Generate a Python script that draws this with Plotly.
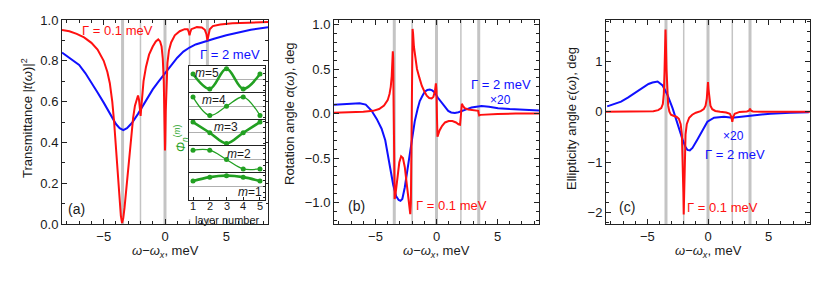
import plotly.graph_objects as go

W, H = 822, 297

# ---------------- data ----------------
mode_x = [-3.46, -2.0, 0.0, 2.0, 3.46]
mode_bright = [True, False, True, False, True]

# panel (a) transmittance
a_red_x = [-8.4, -7.8, -7.2, -6.6, -6.0, -5.5, -5.0, -4.7, -4.5, -4.3, -4.15, -4.0, -3.85, -3.72, -3.6,
           -3.5, -3.4, -3.3, -3.15, -3.0, -2.8, -2.6, -2.45, -2.3, -2.2, -2.12, -2.06, -2.02, -1.99,
           -1.95, -1.88, -1.75, -1.55, -1.3, -1.0, -0.75, -0.55, -0.4, -0.28, -0.18, -0.1, -0.05,
           -0.015, 0.0, 0.02, 0.06, 0.12, 0.2, 0.32, 0.5, 0.8, 1.2, 1.6, 1.85, 1.94, 2.0, 2.06, 2.15,
           2.6, 3.0, 3.25, 3.38, 3.46, 3.54, 3.65, 3.9, 4.5, 5.5, 6.5, 7.5, 8.4]
a_red_y = [0.951, 0.945, 0.932, 0.915, 0.888, 0.855, 0.80, 0.745, 0.69, 0.60, 0.50, 0.38, 0.24, 0.12, 0.04,
           0.005, 0.03, 0.08, 0.18, 0.29, 0.42, 0.52, 0.58, 0.62, 0.63, 0.61, 0.57, 0.535, 0.53,
           0.56, 0.62, 0.70, 0.77, 0.83, 0.87, 0.895, 0.905, 0.895, 0.87, 0.81, 0.70, 0.55,
           0.40, 0.36, 0.40, 0.55, 0.70, 0.79, 0.85, 0.89, 0.925, 0.945, 0.955, 0.955, 0.94, 0.925, 0.94, 0.955,
           0.965, 0.963, 0.952, 0.93, 0.90, 0.93, 0.955, 0.97, 0.978, 0.984, 0.987, 0.989, 0.99]
a_blue_x = [-8.4, -7.5, -7.0, -6.5, -6.0, -5.5, -5.0, -4.5, -4.0, -3.7, -3.4, -3.1, -2.7, -2.2, -1.8,
            -1.0, -0.5, 0.0, 0.5, 1.0, 1.5, 2.0, 2.5, 3.0, 3.5, 4.0, 5.0, 6.0, 7.0, 8.4]
a_blue_y = [0.84, 0.80, 0.78, 0.74, 0.695, 0.645, 0.595, 0.54, 0.49, 0.47, 0.46, 0.47, 0.495, 0.54, 0.58,
            0.66, 0.70, 0.74, 0.78, 0.815, 0.845, 0.865, 0.88, 0.89, 0.90, 0.908, 0.925, 0.94, 0.952, 0.965]

# panel (b) rotation angle
b_red_x = [-8.4, -7.0, -6.0, -5.2, -4.7, -4.3, -4.0, -3.85, -3.75, -3.67, -3.62, -3.58, -3.55, -3.52,
           -3.49, -3.46, -3.43, -3.38, -3.3, -3.2, -3.05, -2.9, -2.75, -2.6, -2.45, -2.3, -2.2, -2.15,
           -2.1, -2.05, -2.0, -1.96, -1.92, -1.85, -1.75, -1.6, -1.4, -1.2, -1.0, -0.8, -0.6, -0.4,
           -0.25, -0.12, -0.05, 0.0, 0.04, 0.08, 0.13, 0.25, 0.45, 0.7, 1.0, 1.3, 1.6, 1.8, 1.93, 1.98,
           2.03, 2.08, 2.15, 2.3, 2.6, 3.0, 3.3, 3.42, 3.46, 3.5, 3.6, 4.0, 5.0, 6.5, 8.4]
b_red_y = [0.01, 0.012, 0.02, 0.03, 0.05, 0.09, 0.15, 0.22, 0.30, 0.42, 0.55, 0.70, 0.62, 0.2,
           -0.4, -0.85, -0.96, -0.93, -0.82, -0.68, -0.55, -0.48, -0.50, -0.60, -0.78, -0.98, -1.10, -1.13,
           -1.0, -0.3, 0.5, 0.95, 0.90, 0.75, 0.62, 0.50, 0.40, 0.31, 0.25, 0.20, 0.175, 0.17,
           0.19, 0.26, 0.34, 0.25, -0.05, -0.26, -0.24, -0.19, -0.14, -0.10, -0.085, -0.085, -0.10, -0.12, -0.125, -0.05,
           0.08, 0.11, 0.09, 0.06, 0.045, 0.04, 0.035, 0.03, 0.0, -0.02, -0.015, -0.01, -0.005, 0.0, 0.0]
b_blue_x = [-8.4, -7.2, -6.3, -5.8, -5.33, -4.9, -4.5, -4.2, -3.96, -3.75, -3.55, -3.3, -3.1, -2.95,
            -2.8, -2.6, -2.4, -2.19, -2.0, -1.78, -1.55, -1.37, -1.15, -0.96, -0.75, -0.55, -0.35, -0.14,
            0.1, 0.41, 0.7, 0.96, 1.2, 1.5, 1.8, 2.05, 2.5, 2.87, 3.3, 3.69, 4.3, 5.05, 6.0, 6.69, 7.4, 8.4]
b_blue_y = [0.10, 0.11, 0.115, 0.10, 0.034, -0.06, -0.17, -0.30, -0.47, -0.62, -0.80, -0.93, -0.97, -0.98,
            -0.96, -0.83, -0.66, -0.47, -0.27, -0.085, 0.05, 0.14, 0.20, 0.245, 0.265, 0.27, 0.26, 0.235,
            0.18, 0.124, 0.07, 0.03, 0.012, 0.007, 0.015, 0.03, 0.05, 0.067, 0.08, 0.085, 0.075, 0.06, 0.05, 0.045, 0.04, 0.035]

# panel (c) ellipticity angle
c_red_x = [-8.4, -6.0, -5.0, -4.5, -4.1, -3.85, -3.72, -3.64, -3.58, -3.53, -3.5, -3.47, -3.42, -3.36,
           -3.28, -3.18, -3.05, -2.85, -2.6, -2.4, -2.25, -2.15, -2.08, -2.03, -2.0, -1.97, -1.92, -1.85,
           -1.75, -1.55, -1.3, -1.0, -0.6, -0.35, -0.2, -0.1, -0.04, 0.0, 0.04, 0.1, 0.2, 0.35, 0.6, 1.0,
           1.5, 1.8, 1.92, 2.0, 2.08, 2.2, 2.6, 3.2, 3.38, 3.46, 3.54, 3.7, 4.5, 8.4]
c_red_y = [0.0, 0.002, 0.005, 0.01, 0.03, 0.07, 0.15, 0.35, 0.8, 1.4, 1.63, 1.4, 0.85, 0.38,
           0.12, 0.0, -0.06, -0.08, -0.10, -0.14, -0.25, -0.45, -0.9, -1.6, -2.04, -1.6, -0.9, -0.45,
           -0.25, -0.12, -0.06, -0.02, 0.01, 0.05, 0.12, 0.26, 0.45, 0.59, 0.45, 0.26, 0.12, 0.05, 0.015, 0.0,
           -0.015, -0.04, -0.1, -0.2, -0.1, -0.04, -0.005, 0.005, 0.02, 0.06, 0.02, 0.005, 0.0, 0.0]
c_blue_x = [-8.3, -7.7, -7.16, -6.6, -6.07, -5.6, -5.25, -4.9, -4.57, -4.15, -3.74, -3.33, -2.92, -2.51,
            -2.1, -1.85, -1.69, -1.5, -1.28, -0.87, -0.46, -0.05, 0.5, 1.32, 2.0, 2.4, 3.5, 5.14, 6.78, 8.3]
c_blue_y = [0.105, 0.15, 0.20, 0.28, 0.36, 0.44, 0.50, 0.55, 0.58, 0.60, 0.52, 0.33, 0.07, -0.26,
            -0.55, -0.70, -0.76, -0.77, -0.72, -0.55, -0.36, -0.20, -0.12, -0.10, -0.12, -0.11, -0.07, -0.04, -0.02, -0.01]

# inset: mode amplitudes on layers
layers = [1, 2, 3, 4, 5]
inset_modes = [5, 4, 3, 2, 1]
phi = {
    5: [0.29, -0.50, 0.58, -0.50, 0.29],
    4: [0.50, -0.50, 0.0, 0.50, -0.50],
    3: [0.58, 0.0, -0.58, 0.0, 0.58],
    2: [0.50, 0.50, 0.0, -0.50, -0.50],
    1: [0.29, 0.50, 0.58, 0.50, 0.29],
}

x_ticks = [-5, 0, 5]
x_ticktext = ["\u22125", "0", "5"]
a_yticks = [0.0, 0.2, 0.4, 0.6, 0.8, 1.0]
a_yticktext = ["0.0", "0.2", "0.4", "0.6", "0.8", "1.0"]
b_yticks = [-1.0, -0.5, 0.0, 0.5, 1.0]
b_yticktext = ["\u22121.0", "\u22120.5", "0.0", "0.5", "1.0"]
c_yticks = [-2, -1, 0, 1]
c_yticktext = ["\u22122", "\u22121", "0", "1"]

# ---------------- styling ----------------
RED = "#ff1010"
BLUE = "#1010ff"
GREEN = "#22a022"
GRAY = "#c4c4c4"
FONT = "Liberation Sans, Arial, sans-serif"
TXT = "#1a1a1a"


def fx(p):
    return p / W


def fy(p):
    return 1 - p / H


fig = go.Figure()

panels = [
    dict(xa="x", ya="y", rx=a_red_x, ry=a_red_y, bx=a_blue_x, by=a_blue_y),
    dict(xa="x2", ya="y2", rx=b_red_x, ry=b_red_y, bx=b_blue_x, by=b_blue_y),
    dict(xa="x3", ya="y3", rx=c_red_x, ry=c_red_y, bx=c_blue_x, by=c_blue_y),
]
for p in panels:
    fig.add_trace(go.Scatter(x=p["bx"], y=p["by"], mode="lines", xaxis=p["xa"], yaxis=p["ya"],
                             line=dict(color=BLUE, width=2), showlegend=False, hoverinfo="skip"))
    fig.add_trace(go.Scatter(x=p["rx"], y=p["ry"], mode="lines", xaxis=p["xa"], yaxis=p["ya"],
                             line=dict(color=RED, width=2), showlegend=False, hoverinfo="skip"))

# mask subplot (white) under the inset's tick labels
fig.add_trace(go.Scatter(x=[], y=[], xaxis="x4", yaxis="y4", showlegend=False))

# inset subplots
for i, m in enumerate(inset_modes):
    n = 5 + i
    fig.add_trace(go.Scatter(x=layers, y=phi[m], mode="lines+markers",
                             xaxis=f"x{n}", yaxis=f"y{n}",
                             line=dict(color=GREEN, width=2.6 if m % 2 == 1 else 1.3, shape="spline", smoothing=1.0),
                             marker=dict(color=GREEN, size=5),
                             showlegend=False, hoverinfo="skip"))

# gray mode lines
shapes = []
for ref in ["", "2", "3"]:
    for xm, br in zip(mode_x, mode_bright):
        shapes.append(dict(type="line", xref="x" + ref, yref="y" + ref + " domain",
                           x0=xm, x1=xm, y0=0, y1=1, layer="below",
                           line=dict(color=GRAY, width=3 if br else 1.5)))

layout = dict(template="none", width=W, height=H,
              margin=dict(l=0, r=0, t=0, b=0, pad=0, autoexpand=False),
              paper_bgcolor="white", plot_bgcolor="white",
              font=dict(family=FONT, size=13, color=TXT), showlegend=False)

frame = dict(showline=True, linecolor="#222", linewidth=1, mirror="allticks", automargin=False,
             ticks="inside", ticklen=5, tickcolor="#222", showgrid=False, zeroline=False,
             tickfont=dict(size=13, family=FONT, color=TXT))

doms_x = [(62, 268), (334, 539), (606, 810)]
ranges_y = [[0, 1], [-1.24, 1.05], [-2.23, 1.82]]
yt = [(a_yticks, a_yticktext, 0.1), (b_yticks, b_yticktext, 0.1), (c_yticks, c_yticktext, 0.2)]
for k, (d, ry, (tv, tt, mdt)) in enumerate(zip(doms_x, ranges_y, yt)):
    sx = "" if k == 0 else str(k + 1)
    layout["xaxis" + sx] = dict(frame, domain=[fx(d[0]), fx(d[1])], range=[-8.4, 8.4], anchor="y" + sx,
                                tickmode="array", tickvals=x_ticks, ticktext=x_ticktext,
                                minor=dict(tickmode="linear", tick0=0, dtick=1, ticks="inside", ticklen=3,
                                           tickcolor="#222", showgrid=False))
    layout["yaxis" + sx] = dict(frame, domain=[fy(224), fy(20)], range=ry, anchor="x" + sx,
                                tickmode="array", tickvals=tv, ticktext=tt,
                                minor=dict(tickmode="linear", tick0=0, dtick=mdt, ticks="inside", ticklen=3,
                                           tickcolor="#222", showgrid=False))

# mask axes
layout["xaxis4"] = dict(domain=[fx(186), fx(266)], range=[0, 1], visible=False, anchor="y4")
layout["yaxis4"] = dict(domain=[fy(219), fy(200)], range=[0, 1], visible=False, anchor="x4")

box_edges = [66, 93, 119.5, 146, 173, 200]
for i, m in enumerate(inset_modes):
    n = 5 + i
    last = (m == 1)
    layout[f"xaxis{n}"] = dict(domain=[fx(189), fx(265)], range=[0.76, 5.3], anchor=f"y{n}",
                               showline=True, linecolor="#222", linewidth=1, mirror=True, automargin=False,
                               showgrid=False, zeroline=False,
                               tickmode="array", tickvals=layers,
                               ticks="inside" if last else "", ticklen=3, tickcolor="#222",
                               showticklabels=False)
    layout[f"yaxis{n}"] = dict(domain=[fy(box_edges[i + 1]), fy(box_edges[i])], range=[-0.72, 0.72],
                               anchor=f"x{n}", side="right", showline=True, linecolor="#222", linewidth=1,
                               mirror=True, automargin=False,
                               showgrid=False, zeroline=True, zerolinecolor="#b0b0b0", zerolinewidth=1,
                               showticklabels=False, ticks="inside", ticklen=2, tickcolor="#222",
                               tickmode="linear", tick0=0, dtick=0.3)

layout["shapes"] = shapes

ann = []


def text(x, y, s, color=TXT, size=13, angle=0):
    ann.append(dict(x=fx(x), y=fy(y), xref="paper", yref="paper", text=s, showarrow=False,
                    xanchor="center", yanchor="middle", textangle=angle,
                    font=dict(family=FONT, size=size, color=color)))


xt = "<i>ω</i>\u2212<i>ω</i><sub><i>x</i></sub>, meV"
text(165, 251, xt)
text(436, 251, xt)
text(708, 251, xt)
text(27, 118, "Transmittance |<i>t</i>(<i>ω</i>)|<sup>2</sup>", angle=-90)
text(289, 114, "Rotation angle <i>α</i>(<i>ω</i>), deg", angle=-90)
text(571, 119, "Ellipticity angle <i>ϵ</i>(<i>ω</i>), deg", angle=-90)

text(118, 31, "Γ = 0.1 meV", color=RED)
text(230, 54, "Γ = 2 meV", color=BLUE)
text(76, 209, "(a)", size=14)

text(501, 84, "Γ = 2 meV", color=BLUE)
text(500, 100, "×20", color=BLUE, size=12)
text(451, 205, "Γ = 0.1 meV", color=RED)
text(356, 206, "(b)", size=14)

text(733, 136, "×20", color=BLUE, size=12)
text(735, 154, "Γ = 2 meV", color=BLUE)
text(722, 207, "Γ = 0.1 meV", color=RED)
text(627, 207, "(c)", size=14)

# inset labels
text(181, 138, "<i>Φ</i><sub><i>n</i></sub><sup>(<i>m</i>)</sup>", color=GREEN, size=12, angle=-90)
text(207, 73, "<i>m</i>=5", size=12)
text(214, 100, "<i>m</i>=4", size=12)
text(226, 127, "<i>m</i>=3", size=12)
text(239, 154, "<i>m</i>=2", size=12)
text(250, 192, "<i>m</i>=1", size=12)
text(227, 219.5, "layer number", size=11)
# inset layer tick labels, placed by the inset x-axis
for lv in layers:
    ann.append(dict(x=lv, xref="x9", y=fy(206), yref="paper", text=str(lv), showarrow=False,
                    xanchor="center", yanchor="middle", font=dict(family=FONT, size=11, color=TXT)))

layout["annotations"] = ann
fig.update_layout(**layout)
fig.write_html("out.html", config={"displayModeBar": False},
               post_script="document.body.style.margin='0';document.body.style.overflow='hidden';")
